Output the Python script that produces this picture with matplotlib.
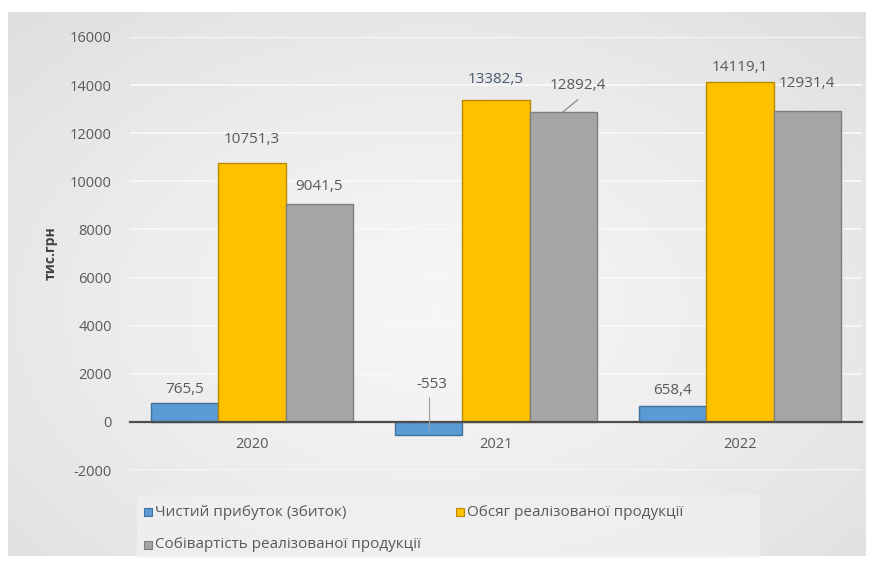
import numpy as np
import matplotlib
matplotlib.use("Agg")
import matplotlib.pyplot as plt
from matplotlib.patches import Rectangle

plt.rcParams['font.family'] = ['Open Sans', 'DejaVu Sans']
plt.rcParams['axes.unicode_minus'] = False

# Data
years = ['2020', '2021', '2022']
profit = [765.5, -553, 658.4]
volume = [10751.3, 13382.5, 14119.1]
cost = [9041.5, 12892.4, 12931.4]
series_names = ['Чистий прибуток (збиток)',
                'Обсяг реалізованої продукції',
                'Собівартість реалізованої продукції']

colors = ['#5B9BD5', '#FFC000', '#A5A5A5']
edges = ['#41719C', '#B88A00', '#7F7F7F']
text_col = '#595959'

W, H = 874, 565
fig = plt.figure(figsize=(W / 100, H / 100), dpi=100)

# soft radial background of the chart area
bg = fig.add_axes([8 / W, 9 / H, 858 / W, 544 / H], zorder=0)
yy, xx = np.mgrid[0:1:300j, 0:1:400j]
r = np.sqrt(((xx - 0.5) / 0.8) ** 2 + ((yy - 0.55) / 0.85) ** 2)
r = np.clip(r, 0, 1) ** 1.3
c0 = np.array([0.965, 0.965, 0.965])
c1 = np.array([0.86, 0.86, 0.86])
img = c0[None, None, :] * (1 - r[..., None]) + c1[None, None, :] * r[..., None]
bg.imshow(img, aspect='auto', extent=[0, 1, 0, 1])
bg.set_axis_off()

ax = fig.add_axes([130 / W, 95 / H, 732 / W, 433 / H], zorder=1)
ax.patch.set_alpha(0)

x = np.arange(len(years))
w = 0.275
data = [profit, volume, cost]
for i, vals in enumerate(data):
    ax.bar(x + (i - 1) * w, vals, w, color=colors[i], edgecolor=edges[i],
           linewidth=1.0, zorder=3)

ax.set_ylim(-2000, 16000)
ax.set_xlim(-0.5, 2.5)
ax.set_yticks(range(-2000, 16001, 2000))
ax.yaxis.grid(True, color='#f8f8f8', linewidth=1.3, zorder=0)
ax.tick_params(axis='y', length=0, labelsize=10.5, labelcolor=text_col, pad=13)
for s in ['top', 'right', 'left']:
    ax.spines[s].set_visible(False)
ax.spines['bottom'].set_position(('data', 0))
ax.spines['bottom'].set_color('#4d4d4d')
ax.spines['bottom'].set_linewidth(1.6)
ax.spines['bottom'].set_zorder(4)
ax.set_xticks(x)
ax.set_xticklabels(years)
ax.tick_params(axis='x', length=0, labelsize=10.5, labelcolor=text_col, pad=11)

ax.set_ylabel('тис.грн', fontsize=10, fontweight='bold', color='#404040', labelpad=9)


def fmt(v):
    return ('%g' % v).replace('.', ',')


# value labels: gap above each bar in data units
kw = dict(ha='center', va='center', fontsize=11, color=text_col, zorder=5)
gaps = [[600, 1000, 750], [None, 830, 1080], [660, 620, 1120]]
for j in range(3):
    for i, vals in enumerate(data):
        v = vals[j]
        xp = x[j] + (i - 1) * w
        if v < 0:
            ax.text(xp + 0.01, 1575, fmt(v), **kw)
            ax.plot([xp, xp], [1050, v / 2], color='#a0a0a0', lw=0.8, zorder=5)
        elif j == 1 and i == 2:
            ax.text(xp + 0.06, v + gaps[j][i], fmt(v), **kw)
            ax.plot([xp + 0.06, xp], [v + 500, v], color='#808080', lw=0.8, zorder=5)
        else:
            c = '#4a5a70' if (j == 1 and i == 1) else text_col
            ax.text(xp, v + gaps[j][i], fmt(v), **dict(kw, color=c))

# legend laid out as in the office chart: two entries on the first row
fig.patches.append(Rectangle((137 / W, 1 - 558 / H), 623 / W, 63 / H,
                             transform=fig.transFigure, facecolor='#f1f1f1',
                             alpha=0.75, edgecolor='none', zorder=2))
entries = [(148, 512, 0), (460, 512, 1), (148, 545, 2)]
for px, py, i in entries:
    fig.patches.append(Rectangle(((px - 4) / W, 1 - (py + 4) / H), 8 / W, 8 / H,
                                 transform=fig.transFigure, facecolor=colors[i],
                                 edgecolor=edges[i], lw=0.8, zorder=3))
    fig.text((px + 7) / W, 1 - py / H, series_names[i], fontsize=11,
             color=text_col, ha='left', va='center', zorder=3)

fig.savefig('out.png', dpi=100, facecolor='white')
